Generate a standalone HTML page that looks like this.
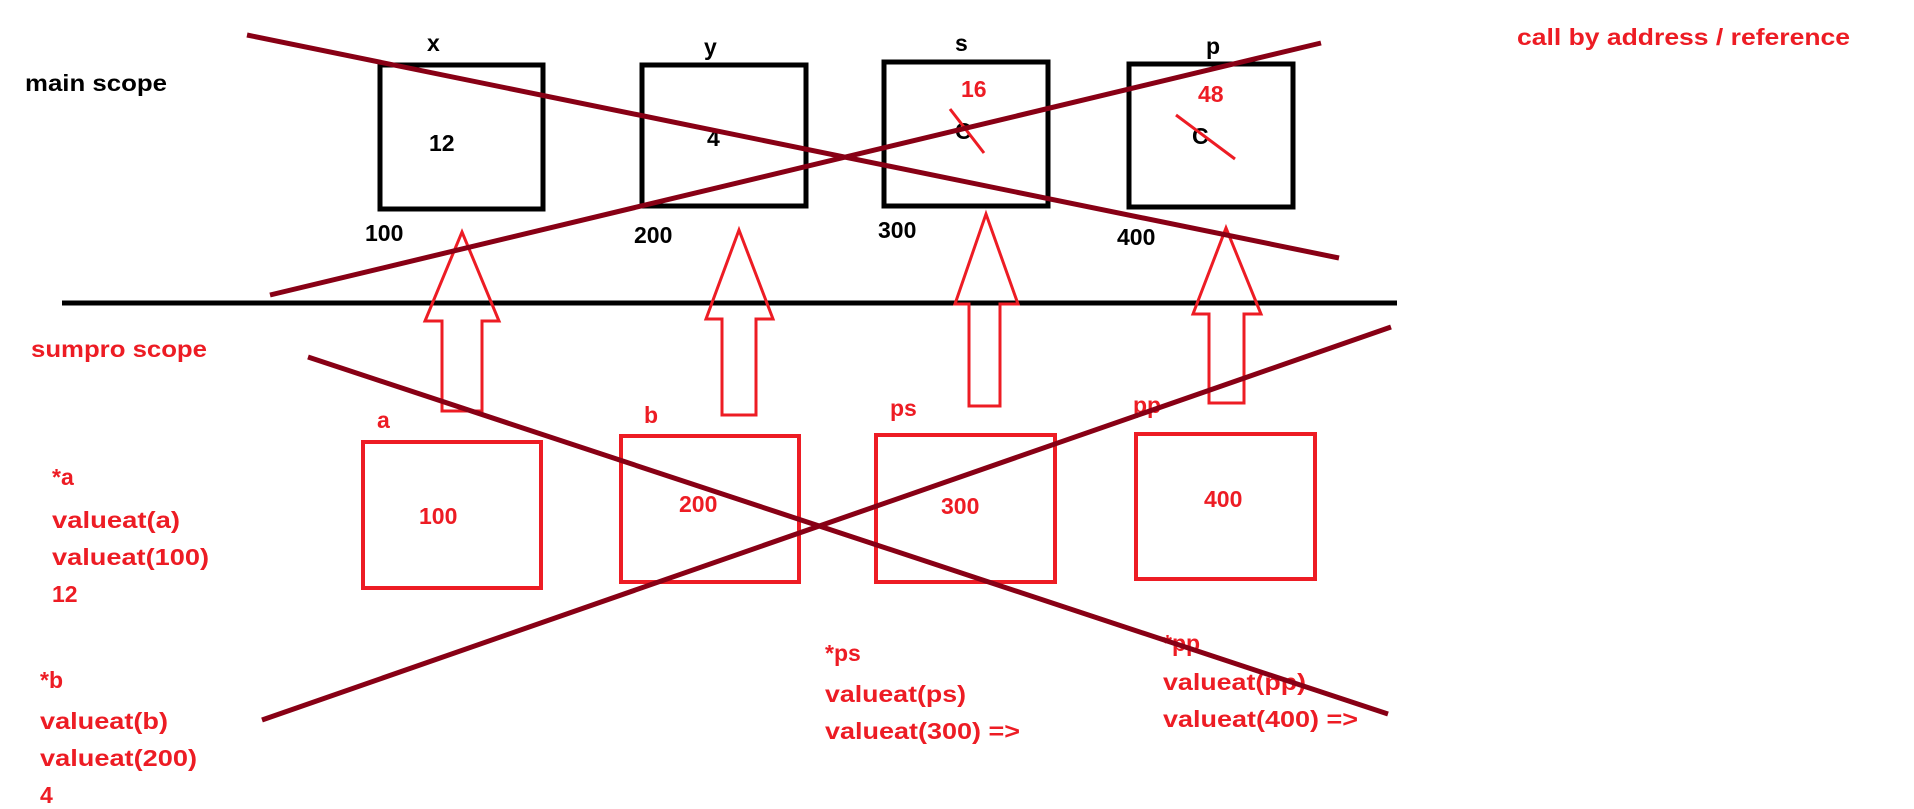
<!DOCTYPE html>
<html><head><meta charset="utf-8"><style>
html,body{margin:0;padding:0;background:#fff;}
svg{display:block;}
text{font-family:"Liberation Sans",sans-serif;font-weight:bold;font-size:23px;}
.k{fill:#000}.r{fill:#ed1c24}
</style></head><body>
<svg width="1914" height="809" viewBox="0 0 1914 809" xmlns="http://www.w3.org/2000/svg">
<rect width="1914" height="809" fill="#fff"/>
<!-- black boxes -->
<g fill="none" stroke="#000" stroke-width="5">
<rect x="380" y="65" width="163" height="144"/>
<rect x="642" y="65" width="164" height="141"/>
<rect x="884" y="62" width="164" height="144"/>
<rect x="1129" y="64" width="164" height="143"/>
</g>
<line x1="62" y1="303" x2="1397" y2="303" stroke="#000" stroke-width="5"/>
<text class="k" x="427" y="51">x</text>
<text class="k" x="704" y="55">y</text>
<text class="k" x="955" y="51">s</text>
<text class="k" x="1206" y="54">p</text>
<text class="k" x="25" y="91" textLength="142" lengthAdjust="spacingAndGlyphs">main scope</text>
<text class="k" x="429" y="151">12</text>
<text class="k" x="707" y="146">4</text>
<text class="r" x="961" y="97">16</text>
<text class="r" x="1198" y="102">48</text>
<text class="k" x="955" y="139">C</text>
<text class="k" x="1192" y="144">C</text>
<line x1="950" y1="109" x2="984" y2="153" stroke="#ed1c24" stroke-width="3"/>
<line x1="1176" y1="115" x2="1235" y2="159" stroke="#ed1c24" stroke-width="3"/>
<text class="k" x="365" y="241">100</text>
<text class="k" x="634" y="243">200</text>
<text class="k" x="878" y="238">300</text>
<text class="k" x="1117" y="245">400</text>
<!-- arrows -->
<g fill="none" stroke="#ed1c24" stroke-width="3" stroke-linejoin="miter">
<polygon points="462,232 499,321 482,321 482,411 442,411 442,321 425,321"/>
<polygon points="739,230 773,319 756,319 756,415 722,415 722,319 706,319"/>
<polygon points="986,214 1018,304 1000,304 1000,406 969,406 969,304 955,304"/>
<polygon points="1226,228 1261,314 1244,314 1244,403 1209,403 1209,314 1193,314"/>
</g>
<!-- red boxes -->
<g fill="none" stroke="#ed1c24" stroke-width="4">
<rect x="363" y="442" width="178" height="146"/>
<rect x="621" y="436" width="178" height="146"/>
<rect x="876" y="435" width="179" height="147"/>
<rect x="1136" y="434" width="179" height="145"/>
</g>
<text class="r" x="31" y="357" textLength="176" lengthAdjust="spacingAndGlyphs">sumpro scope</text>
<text class="r" x="377" y="428">a</text>
<text class="r" x="644" y="423">b</text>
<text class="r" x="890" y="416">ps</text>
<text class="r" x="1133" y="413">pp</text>
<text class="r" x="419" y="524">100</text>
<text class="r" x="679" y="512">200</text>
<text class="r" x="941" y="514">300</text>
<text class="r" x="1204" y="507">400</text>
<g class="r">
<text class="r" x="52" y="485">*a</text>
<text class="r" x="52" y="528" textLength="128" lengthAdjust="spacingAndGlyphs">valueat(a)</text>
<text class="r" x="52" y="565" textLength="157" lengthAdjust="spacingAndGlyphs">valueat(100)</text>
<text class="r" x="52" y="602">12</text>
<text class="r" x="40" y="688">*b</text>
<text class="r" x="40" y="729" textLength="128" lengthAdjust="spacingAndGlyphs">valueat(b)</text>
<text class="r" x="40" y="766" textLength="157" lengthAdjust="spacingAndGlyphs">valueat(200)</text>
<text class="r" x="40" y="803">4</text>
<text class="r" x="825" y="661">*ps</text>
<text class="r" x="825" y="702" textLength="141" lengthAdjust="spacingAndGlyphs">valueat(ps)</text>
<text class="r" x="825" y="739" textLength="195" lengthAdjust="spacingAndGlyphs">valueat(300) =&gt;</text>
<text class="r" x="1163" y="651">*pp</text>
<text class="r" x="1163" y="690" textLength="143" lengthAdjust="spacingAndGlyphs">valueat(pp)</text>
<text class="r" x="1163" y="727" textLength="195" lengthAdjust="spacingAndGlyphs">valueat(400) =&gt;</text>
<text class="r" x="1517" y="45" textLength="333" lengthAdjust="spacingAndGlyphs">call by address / reference</text>
</g>
<!-- dark red cross lines -->
<g stroke="#880015" stroke-width="5">
<line x1="247" y1="35" x2="1339" y2="258"/>
<line x1="270" y1="295" x2="1321" y2="43"/>
<line x1="308" y1="357" x2="1388" y2="714"/>
<line x1="262" y1="720" x2="1391" y2="327"/>
</g>
</svg>
</body></html>
